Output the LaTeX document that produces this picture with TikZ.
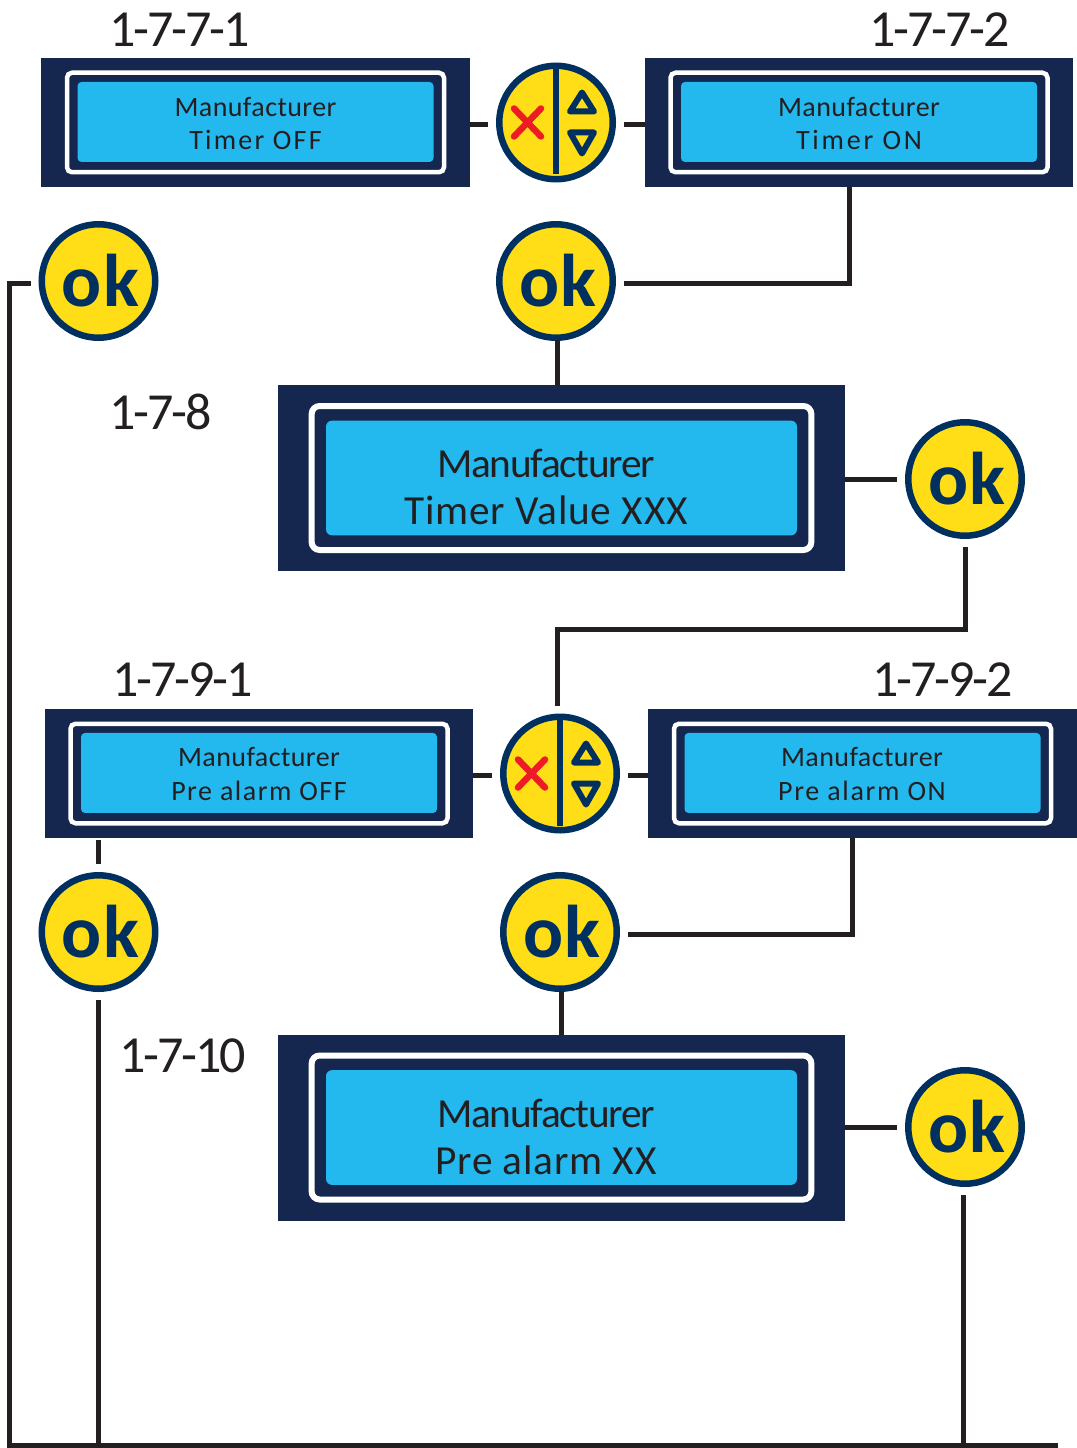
\documentclass[tikz,border=0pt]{standalone}
\usepackage{fontspec}
\setmainfont{Carlito}
\definecolor{panelnavy}{HTML}{15274F}
\definecolor{lcdblue}{HTML}{23B8EE}
\definecolor{btnyellow}{HTML}{FFDD17}
\definecolor{btnnavy}{HTML}{00305F}
\definecolor{wirecol}{HTML}{231F20}
\definecolor{crossred}{HTML}{ED1C24}
\def\u{0.75pt}
\newcommand{\trk}[2]{{\addfontfeature{LetterSpace=#1}#2}}
\newcommand{\oklabel}{\hspace{3pt}ok}
\tikzset{
  panelsmall/.style={rectangle,fill=panelnavy,inner sep=0pt,outer sep=0pt,minimum width=428.5*\u,minimum height=129*\u},
  framesmall/.style={rectangle,draw=white,line width=4.5*\u,rounded corners=5*\u,inner sep=0pt,minimum width=377*\u,minimum height=99.5*\u},
  lcdsmall/.style={rectangle,fill=lcdblue,rounded corners=4*\u,inner sep=0pt,minimum width=356*\u,minimum height=80*\u},
  textsmall/.style={align=center,text=wirecol,inner sep=0pt,font=\fontsize{21}{25}\selectfont},
  panelbig/.style={rectangle,fill=panelnavy,inner sep=0pt,outer sep=0pt,minimum width=567*\u,minimum height=186*\u},
  framebig/.style={rectangle,draw=white,line width=6*\u,rounded corners=8*\u,inner sep=0pt,minimum width=499.7*\u,minimum height=144*\u},
  lcdbig/.style={rectangle,fill=lcdblue,rounded corners=6*\u,inner sep=0pt,minimum width=471*\u,minimum height=114.7*\u},
  textbig/.style={align=center,text=wirecol,inner sep=0pt,font=\fontsize{31}{35}\selectfont},
  btn/.style={circle,draw=btnnavy,fill=btnyellow,line width=6.5*\u,inner sep=0pt,minimum size=113.5*\u,outer sep=11.25*\u},
  oktext/.style={text=btnnavy,font=\fontsize{56}{56}\selectfont\bfseries\addfontfeature{LetterSpace=2}},
  steplabel/.style={anchor=base west,inner sep=0pt,text=wirecol,font=\fontsize{39}{39}\selectfont\addfontfeature{LetterSpace=-4}},
  wire/.style={draw=wirecol,line width=5*\u},
  glyph/.style={draw=btnnavy,line width=6*\u,line join=round,line cap=round},
  divider/.style={draw=btnnavy,line width=6*\u},
  crossmark/.style={draw=crossred,line width=6.5*\u,line cap=round}
}
\newcommand{\arrowbtn}[3]{%
  \node[btn] (#1) at (#2,#3) {};
  \draw[divider] (#2,#3-55) -- (#2,#3+52);
  \draw[crossmark] (#2-42,#3-14) -- (#2-15,#3+14) (#2-42,#3+14) -- (#2-15,#3-14);
  \draw[glyph] (#2+26,#3-30) -- (#2+14,#3-11) -- (#2+38,#3-11) -- cycle;
  \draw[glyph] (#2+14,#3+10) -- (#2+38,#3+10) -- (#2+26,#3+31) -- cycle;
}
\begin{document}
\begin{tikzpicture}[x=0.75pt,y=-0.75pt]
\useasboundingbox (0,0) rectangle (1077,1448);

% step labels
\node[steplabel] (l1) at (109,46.5) {1-7-7-1};
\node[steplabel] (l2) at (869,46.5) {1-7-7-2};
\node[steplabel] (l3) at (109,429.5) {1-7-8};
\node[steplabel] (l4) at (112,696.5) {1-7-9-1};
\node[steplabel] (l5) at (872,696.5) {1-7-9-2};
\node[steplabel] (l6) at (119,1072) {1-7-10};

% small panels
\node[panelsmall] (a) at (255.5,122.5) {};
\node[framesmall] (af) at (a) {};
\node[lcdsmall,yshift=0.4pt] (al) at (a) {};
\node[textsmall] (at) at (255.5,123.5) {\trk{1.5}{Manufacturer}\\\trk{8}{Timer OFF}};

\node[panelsmall] (b) at (859,122.5) {};
\node[framesmall] (bf) at (b) {};
\node[lcdsmall,yshift=0.4pt] (bl) at (b) {};
\node[textsmall] (bt) at (859,123.5) {\trk{1.5}{Manufacturer}\\\trk{10}{Timer ON}};

\node[panelsmall] (c) at (259,773.5) {};
\node[framesmall] (cf) at (c) {};
\node[lcdsmall,yshift=0.4pt] (cl) at (c) {};
\node[textsmall] (ct) at (259,774) {\trk{1.5}{Manufacturer}\\\trk{5.5}{Pre alarm OFF}};

\node[panelsmall] (d) at (862.5,773.5) {};
\node[framesmall] (df) at (d) {};
\node[lcdsmall,yshift=0.4pt] (dl) at (d) {};
\node[textsmall] (dt) at (862,774) {\trk{1.5}{Manufacturer}\\\trk{6}{Pre alarm ON}};

% big panels
\node[panelbig] (e) at (561.5,478) {};
\node[framebig] (ef) at (e) {};
\node[lcdbig] (el) at (e) {};
\node[textbig] (et) at (546,487) {\trk{-3.2}{Manufacturer}\\\trk{2.1}{Timer Value XXX}};

\node[panelbig] (f) at (561.5,1127.5) {};
\node[framebig] (ff) at (f) {};
\node[lcdbig] (fl) at (f) {};
\node[textbig] (ft) at (546,1137) {\trk{-3.2}{Manufacturer}\\\trk{2}{Pre alarm XX}};

% buttons
\arrowbtn{x1}{556}{122.5}
\arrowbtn{x2}{560}{773.5}
\node[btn,oktext] (ok1) at (98.5,281) {\oklabel};
\node[btn,oktext] (ok2) at (556,281) {\oklabel};
\node[btn,oktext] (ok3) at (965,479) {\oklabel};
\node[btn,oktext] (ok4) at (98.5,932) {\oklabel};
\node[btn,oktext] (ok5) at (560,932) {\oklabel};
\node[btn,oktext] (ok6) at (965,1127) {\oklabel};

% free corners
\coordinate (baseleft) at (9,1445.5);
\coordinate (baseright) at (1058,1445.5);
\coordinate (jog) at (557,629);

% connectors
\draw[wire] ([yshift=-2*\u]a.east) -- ([yshift=-2*\u]x1.west);
\draw[wire] ([yshift=-2*\u]x1.east) -- ([yshift=-2*\u]b.west);
\draw[wire] ([xshift=-10*\u]b.south) |- ([yshift=-2*\u]ok2.east);
\draw[wire] ([xshift=1*\u,yshift=9*\u]ok2.south) -- ([xshift=1*\u]ok2.south |- e.north);
\draw[wire] (e.east |- ok3.west) -- (ok3.west);
\draw[wire] (ok3.south) |- (jog) -- (jog |- x2.north);
\draw[wire] ([yshift=-1.5*\u]c.east) -- ([yshift=-1.5*\u]x2.west);
\draw[wire] ([yshift=-1.5*\u]x2.east) -- ([yshift=-1.5*\u]d.west);
\draw[wire] ([xshift=-10*\u]d.south) |- ([yshift=-2*\u]ok5.east);
\draw[wire] ([xshift=1*\u,yshift=9*\u]ok5.south) -- ([xshift=1*\u]ok5.south |- f.north);
\draw[wire] (f.east |- ok6.west) -- (ok6.west);
\draw[wire] ([yshift=-2*\u]ok1.west) -| (baseleft) -- (baseright);
\draw[wire] ([yshift=-2*\u]c.south -| ok4.north) -- (ok4.north);
\draw[wire] (ok4.south) -- (ok4.south |- baseleft);
\draw[wire] ([xshift=-1.5*\u]ok6.south) -- ([xshift=-1.5*\u]ok6.south |- baseleft);
\end{tikzpicture}
\end{document}
